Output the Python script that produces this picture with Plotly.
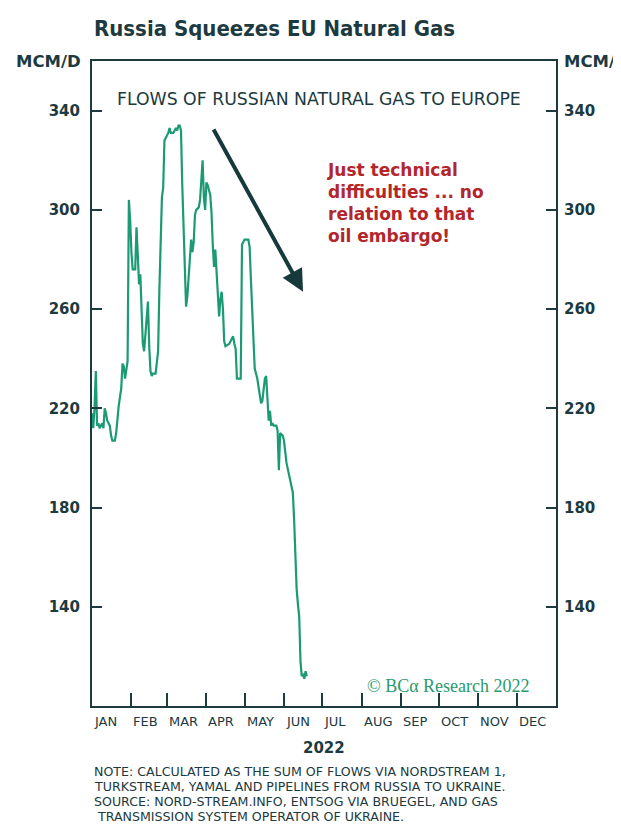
import plotly.graph_objects as go

# ---- data ----
dates = [
    "2022-01-01", "2022-01-02", "2022-01-03", "2022-01-04", "2022-01-05", "2022-01-06", "2022-01-07",
    "2022-01-09", "2022-01-10", "2022-01-11", "2022-01-12", "2022-01-13", "2022-01-14", "2022-01-15",
    "2022-01-16", "2022-01-17", "2022-01-19", "2022-01-20", "2022-01-22", "2022-01-24", "2022-01-25",
    "2022-01-26", "2022-01-27", "2022-01-29", "2022-01-30", "2022-01-31",
    "2022-02-01", "2022-02-02", "2022-02-04", "2022-02-05", "2022-02-06", "2022-02-07", "2022-02-08",
    "2022-02-09", "2022-02-10", "2022-02-11", "2022-02-12", "2022-02-14", "2022-02-15", "2022-02-16",
    "2022-02-17", "2022-02-18", "2022-02-20", "2022-02-21", "2022-02-22", "2022-02-23", "2022-02-24",
    "2022-02-25", "2022-02-26", "2022-02-27", "2022-02-28",
    "2022-03-01", "2022-03-02", "2022-03-03", "2022-03-04", "2022-03-06", "2022-03-08", "2022-03-09",
    "2022-03-10", "2022-03-11", "2022-03-12", "2022-03-13", "2022-03-14", "2022-03-15", "2022-03-16",
    "2022-03-17", "2022-03-18", "2022-03-19", "2022-03-20", "2022-03-21", "2022-03-22", "2022-03-23",
    "2022-03-24", "2022-03-26", "2022-03-27", "2022-03-28", "2022-03-29", "2022-03-30", "2022-03-31",
    "2022-04-01", "2022-04-02", "2022-04-04", "2022-04-05", "2022-04-06", "2022-04-07", "2022-04-08",
    "2022-04-09", "2022-04-10", "2022-04-11", "2022-04-12", "2022-04-13", "2022-04-14", "2022-04-15",
    "2022-04-16", "2022-04-19", "2022-04-21", "2022-04-22", "2022-04-23", "2022-04-24", "2022-04-25",
    "2022-04-28", "2022-04-29",
    "2022-05-01", "2022-05-04", "2022-05-05", "2022-05-06", "2022-05-07", "2022-05-09", "2022-05-11",
    "2022-05-13", "2022-05-14", "2022-05-15", "2022-05-17", "2022-05-18", "2022-05-20", "2022-05-21",
    "2022-05-22", "2022-05-23", "2022-05-24", "2022-05-26", "2022-05-27", "2022-05-28", "2022-05-29",
    "2022-05-31",
    "2022-06-01", "2022-06-03", "2022-06-05", "2022-06-06", "2022-06-07", "2022-06-08", "2022-06-09",
    "2022-06-10", "2022-06-11", "2022-06-12", "2022-06-13", "2022-06-14", "2022-06-15", "2022-06-16",
    "2022-06-17", "2022-06-18", "2022-06-19",
]
flows = [
    218, 212, 220, 235, 213, 214, 212,
    214, 212, 220, 218, 215, 214, 213,
    209, 207, 207, 210, 221, 228, 238,
    237, 232, 239, 304, 296,
    283, 276, 276, 293, 282, 270, 274,
    258, 246, 243, 251, 263, 245, 235,
    233, 234, 234, 238, 243, 268, 290,
    305, 309, 328, 329,
    330, 331, 333, 331, 331, 333, 332,
    334, 334, 332, 310, 290, 270, 261,
    265, 273, 282, 288, 283, 287, 298,
    300, 301, 304, 312, 320, 305, 300,
    311, 310, 306, 299, 286, 277, 284,
    273, 265, 257, 264, 267, 260, 247,
    245, 246, 248, 249, 246, 244, 232,
    232, 286,
    288, 288, 285, 272, 259, 236, 232,
    225, 222, 223, 232, 233, 215, 219,
    213, 214, 213, 213, 211, 195, 210,
    209,
    207, 198, 193, 190, 188, 186, 175,
    158, 147, 141, 136, 118, 112, 113,
    111, 114, 112,
]

month_starts = ["2022-01-01", "2022-02-01", "2022-03-01", "2022-04-01", "2022-05-01", "2022-06-01",
                "2022-07-01", "2022-08-01", "2022-09-01", "2022-10-01", "2022-11-01", "2022-12-01",
                "2023-01-01"]
month_labels = ["JAN", "FEB", "MAR", "APR", "MAY", "JUN", "JUL", "AUG", "SEP", "OCT", "NOV", "DEC"]
y_ticks = [140, 180, 220, 260, 300, 340]
note_lines = [
    "NOTE: CALCULATED AS THE SUM OF FLOWS VIA NORDSTREAM 1,",
    "TURKSTREAM, YAMAL AND PIPELINES FROM RUSSIA TO UKRAINE.",
    "SOURCE: NORD-STREAM.INFO, ENTSOG VIA BRUEGEL, AND GAS",
    "\u00a0TRANSMISSION SYSTEM OPERATOR OF UKRAINE.",
]

# ---- styles ----
DARK = "#1c3a40"
GREEN = "#1b9a74"
RED = "#b3262b"
SANS = "'DejaVu Sans', sans-serif"

fig = go.Figure()
fig.add_trace(go.Scatter(x=dates, y=flows, mode="lines",
                         line=dict(color=GREEN, width=2.2), hoverinfo="skip", showlegend=False))
# invisible copy to activate the right-hand axis
fig.add_trace(go.Scatter(x=dates, y=flows, mode="lines", yaxis="y2",
                         line=dict(color="rgba(0,0,0,0)", width=0), hoverinfo="skip", showlegend=False))

axis_common = dict(showgrid=False, zeroline=False, linecolor=DARK, linewidth=2,
                   tickcolor=DARK, tickwidth=2)
tickfont = dict(family=SANS, size=15, color=DARK, weight="bold")

fig.update_layout(
    width=613, height=823,
    paper_bgcolor="white", plot_bgcolor="white",
    margin=dict(l=84, r=65, t=53, b=125),
    xaxis=dict(type="date", range=["2022-01-01", "2023-01-01"], tickvals=month_starts,
               showticklabels=False, ticks="inside", ticklen=13, showline=True, mirror=True,
               **axis_common),
    yaxis=dict(range=[100, 360], tickvals=y_ticks, ticks="inside", ticklen=10, showline=True,
               tickfont=tickfont, ticklabelstandoff=7, **axis_common),
    yaxis2=dict(range=[100, 360], tickvals=y_ticks, ticks="inside", ticklen=10, showline=True,
                overlaying="y", side="right", ticklabelstandoff=3,
                tickfont=tickfont, **axis_common),
)

ann = []
for ms, lab in zip(month_starts[:-1], month_labels):
    ann.append(dict(x=ms, xref="x", y=0, yref="paper", text=lab, showarrow=False,
                    xanchor="left", yanchor="top", xshift=0, yshift=-6,
                    font=dict(family=SANS, size=13, color=DARK)))

for i, line in enumerate(note_lines):
    ann.append(dict(x=0, xref="paper", y=0, yref="paper", text=line, showarrow=False,
                    xanchor="left", yanchor="top", yshift=-56 - 15 * i,
                    font=dict(family=SANS, size=12.6, color=DARK)))

ann += [
    dict(x=0.5, xref="paper", y=0, yref="paper", text="<b>2022</b>", showarrow=False,
         xanchor="center", yanchor="top", yshift=-31, font=dict(family=SANS, size=15, color=DARK)),
    dict(x=0, xref="paper", y=1, yref="paper", text="Russia Squeezes EU Natural Gas", showarrow=False,
         xanchor="left", yanchor="middle", yshift=33,
         font=dict(family="'DejaVu Sans Condensed', 'Liberation Sans Narrow', sans-serif",
                   size=22, color=DARK, weight="bold")),
    dict(x=0, xref="paper", y=1, yref="paper", text="MCM/D", showarrow=False,
         xanchor="right", yanchor="middle", xshift=-9,
         font=dict(family=SANS, size=16.5, color=DARK, weight="bold")),
    dict(x=1, xref="paper", y=1, yref="paper", text="MCM/D", showarrow=False,
         xanchor="left", yanchor="middle", xshift=6,
         font=dict(family=SANS, size=16.5, color=DARK, weight="bold")),
    dict(x=0.49, xref="paper", y=1, yref="paper", text="FLOWS OF RUSSIAN NATURAL GAS TO EUROPE",
         showarrow=False, xanchor="center", yanchor="middle", yshift=-38,
         font=dict(family=SANS, size=17.3, color=DARK)),
    dict(x=0.503, xref="paper", y=1, yref="paper", align="left",
         text="Just technical<br>difficulties ... no<br>relation to that<br>oil embargo!",
         showarrow=False, xanchor="left", yanchor="top", yshift=-97,
         font=dict(family=SANS, size=17, color=RED, weight="bold")),
    dict(x="2022-06-16", y=267, xref="x", yref="y", ax="2022-04-06", ay=333, axref="x", ayref="y",
         text="", showarrow=True, arrowhead=2, arrowsize=1.1, arrowwidth=4, arrowcolor="#163a3c"),
    dict(x=0.948, xref="paper", y=0.031, yref="paper", text="© BCα Research 2022", showarrow=False,
         xanchor="right", yanchor="middle",
         font=dict(family="'Liberation Serif', 'DejaVu Serif', serif", size=18, color="#2a9a6e")),
]
fig.update_layout(annotations=ann)

fig.write_html("out.html")
